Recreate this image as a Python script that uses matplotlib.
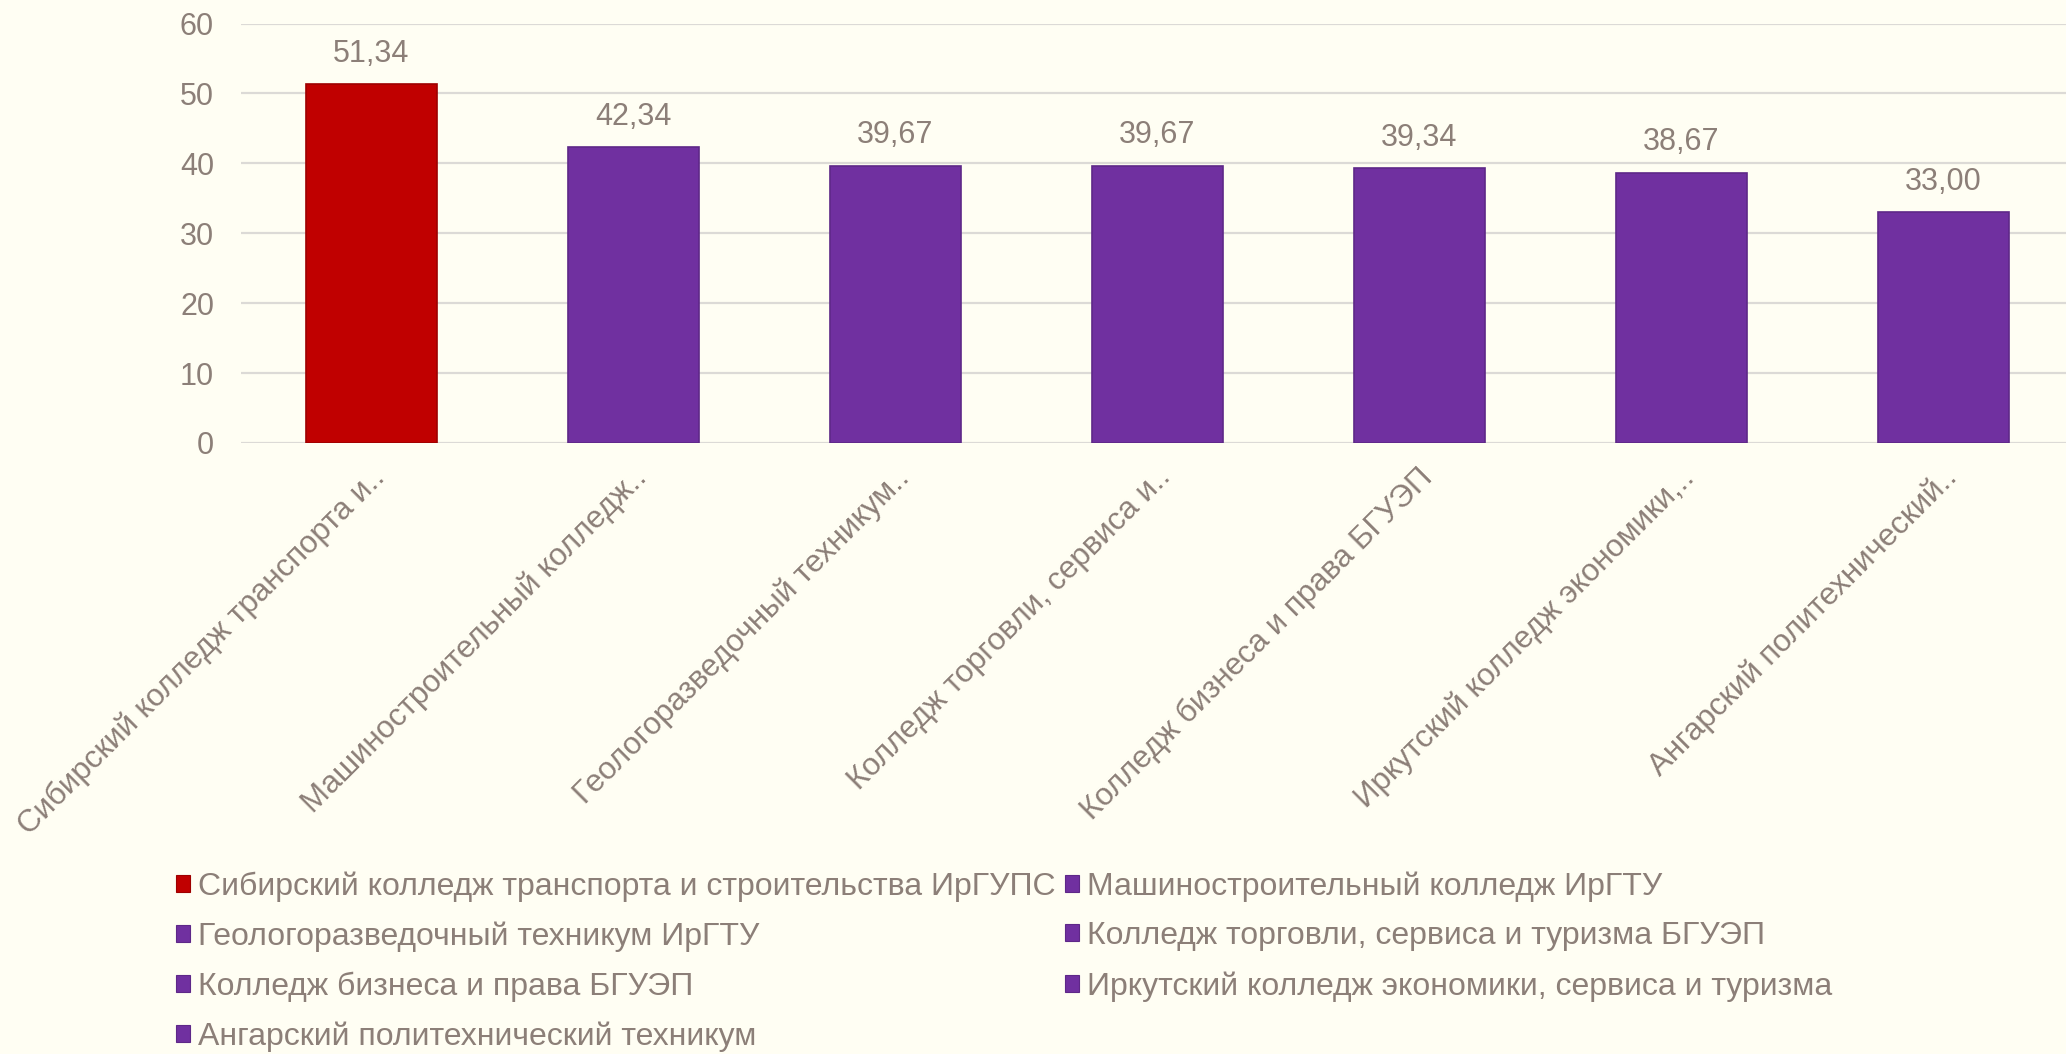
import matplotlib
matplotlib.use("Agg")
import matplotlib.pyplot as plt
from matplotlib.patches import Patch
import matplotlib.transforms as mtransforms

plt.rcParams['font.family'] = ['Liberation Sans', 'DejaVu Sans']

# ---- data ----
tick_labels = [
    "Сибирский колледж транспорта и..",
    "Машиностроительный колледж..",
    "Геологоразведочный техникум..",
    "Колледж торговли, сервиса и..",
    "Колледж бизнеса и права БГУЭП",
    "Иркутский колледж экономики,..",
    "Ангарский политехнический..",
]
legend_names = [
    "Сибирский колледж транспорта и строительства ИрГУПС",
    "Машиностроительный колледж ИрГТУ",
    "Геологоразведочный техникум ИрГТУ",
    "Колледж торговли, сервиса и туризма БГУЭП",
    "Колледж бизнеса и права БГУЭП",
    "Иркутский колледж экономики, сервиса и туризма",
    "Ангарский политехнический техникум",
]
values = [51.34, 42.34, 39.67, 39.67, 39.34, 38.67, 33.00]
bar_colors = ["#C00000", "#7030A0", "#7030A0", "#7030A0", "#7030A0", "#7030A0", "#7030A0"]
edge_colors = ["#9E0000", "#5E2888", "#5E2888", "#5E2888", "#5E2888", "#5E2888", "#5E2888"]
y_ticks = [0, 10, 20, 30, 40, 50, 60]

BG = "#FFFEF3"
TXT = "#8C7F78"
GRID = "#DCDAD6"

W, H = 2066, 1054
fig = plt.figure(figsize=(W / 100, H / 100), dpi=100, facecolor=BG)
ax = fig.add_axes([240.5 / W, 1 - 443 / H, (2074 - 240.5) / W, (443 - 23.5) / H])
ax.set_facecolor(BG)

x = list(range(len(values)))
bars = ax.bar(x, values, width=0.5, color=bar_colors, edgecolor=edge_colors,
              linewidth=1.2, zorder=3)

ax.set_xlim(-0.5, len(values) - 0.5)
ax.set_ylim(0, 60)
ax.set_yticks(y_ticks)
ax.set_yticklabels([str(t) for t in y_ticks])
ax.yaxis.grid(True, color=GRID, linewidth=1.6, zorder=0)
ax.set_axisbelow(True)
for s in ax.spines.values():
    s.set_visible(False)
ax.tick_params(axis='y', length=0, pad=19, labelsize=22, labelcolor=TXT)
ax.tick_params(axis='x', length=0, pad=14, labelsize=22.5, labelcolor=TXT)

ax.set_xticks(x)
ax.set_xticklabels(tick_labels, rotation=45, ha='right', rotation_mode='default')
offset = mtransforms.ScaledTranslation(20 / 100, 0, fig.dpi_scale_trans)
for lab in ax.get_xticklabels():
    lab.set_transform(lab.get_transform() + offset)

ax.bar_label(bars, labels=[f"{v:.2f}".replace(".", ",") for v in values],
             padding=11, fontsize=22, color=TXT)

# legend in row-major order
handles = [Patch(facecolor=c, edgecolor=e, linewidth=0.8) for c, e in zip(bar_colors, edge_colors)]
order = [0, 2, 4, 6, 1, 3, 5]
leg = fig.legend([handles[i] for i in order], [legend_names[i] for i in order],
                 ncol=2, loc='upper left', bbox_to_anchor=(176 / W, 1 - 871 / H),
                 bbox_transform=fig.transFigure, frameon=False, fontsize=23,
                 handlelength=0.44, handleheight=0.44, handletextpad=0.25,
                 columnspacing=0.3, labelspacing=0.62, borderpad=0, borderaxespad=0)
for t in leg.get_texts():
    t.set_color(TXT)

fig.savefig("out.png", dpi=100, facecolor=BG)
